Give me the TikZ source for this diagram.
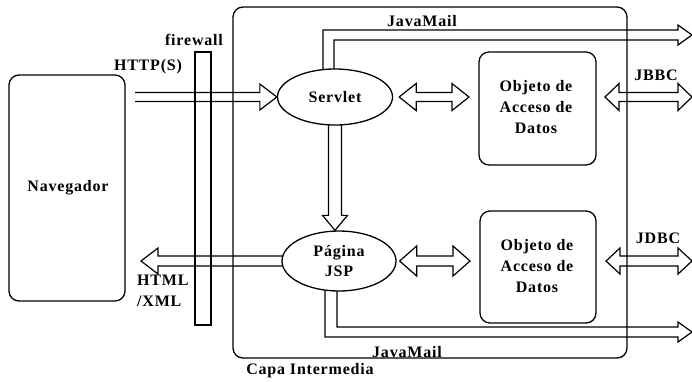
\documentclass[tikz,border=0pt]{standalone}
\usepackage{fontspec}
\setmainfont{Liberation Serif}[LetterSpace=5]
\usetikzlibrary{calc,backgrounds,shapes.geometric}
\tikzset{
  lbl/.style={font=\bfseries\fontsize{16}{21}\selectfont, inner sep=0pt},
  conn/.style={line width=1.2pt, line join=miter},
  rbox/.style={draw, line width=1.3pt, rounded corners=10pt, fill=white},
  frame/.style={draw, line width=1.3pt, rounded corners=10pt},
  oval/.style={draw, ellipse, line width=1.3pt, fill=white, inner sep=0pt, font=\bfseries\fontsize{16}{20}\selectfont, align=center},
}
% horizontal hollow arrow: tail, tip, dir(1 right / -1 left), shaft half, head half, head length
\newcommand\HArrow[6]{%
  \draw[conn] let \p1=(#1),\p2=(#2) in
   (\x1,{\y2+#4}) -- ({\x2-(#3)*#6},{\y2+#4}) -- ({\x2-(#3)*#6},{\y2+#5}) -- (\x2,\y2)
   -- ({\x2-(#3)*#6},{\y2-#5}) -- ({\x2-(#3)*#6},{\y2-#4}) -- (\x1,{\y2-#4});}
% double-headed hollow arrow: left tip, right tip, shaft half, head half, head length
\newcommand\DArrow[5]{%
  \draw[conn] let \p1=(#1),\p2=(#2) in
   (\x1,\y1) -- ({\x1+#5},{\y1+#4}) -- ({\x1+#5},{\y1+#3}) -- ({\x2-#5},{\y1+#3})
   -- ({\x2-#5},{\y1+#4}) -- (\x2,\y1) -- ({\x2-#5},{\y1-#4}) -- ({\x2-#5},{\y1-#3})
   -- ({\x1+#5},{\y1-#3}) -- ({\x1+#5},{\y1-#4}) -- cycle;}
% vertical hollow arrow pointing down: tail, tip, shaft half, head half, head length
\newcommand\VArrow[5]{%
  \draw[conn] let \p1=(#1),\p2=(#2) in
   ({\x1-#3},\y1) -- ({\x1-#3},{\y2+#5}) -- ({\x1-#4},{\y2+#5}) -- (\x1,\y2)
   -- ({\x1+#4},{\y2+#5}) -- ({\x1+#3},{\y2+#5}) -- ({\x1+#3},\y1);}
\begin{document}
\begin{tikzpicture}[x=1pt,y=-1pt]
\useasboundingbox (0,0) rectangle (692,381);

% containers
\draw[frame] (233,7) rectangle (627,358);
\node[lbl] (capalbl) at (310,371) {Capa Intermedia};
\draw[line width=1.2pt] (195,52) rectangle (211,325);
\node[lbl] (fwlbl) at (194,40) {firewall};

\draw[rbox] (9,75) rectangle (125,301);
\node[lbl] (nav) at (68,188) {Navegador};

% components
\node[oval, minimum width=115pt, minimum height=56pt] (servlet) at (335,97) {Servlet};
\node[oval, minimum width=114pt, minimum height=60pt] (jsp) at (339,261) {Página\\JSP};

\draw[rbox] (479,52) rectangle (596,165);
\node[lbl, align=center] (dao1) at (536,107) {Objeto de\\Acceso de\\Datos};
\draw[rbox] (480,211) rectangle (596,323);
\node[lbl, align=center] (dao2) at (537,266) {Objeto de\\Acceso de\\Datos};
\coordinate (dao1w) at (479,97);
\coordinate (dao2w) at (480,261);

% free ends
\coordinate (httptail) at (135,97);
\coordinate (htmltip) at (141,261);
\coordinate (jbbcA) at (605,97);
\coordinate (jbbcB) at (692,97);
\coordinate (jdbcA) at (606,261);
\coordinate (jdbcB) at (692,261);
\coordinate (mail1) at (692,35);
\coordinate (mail2) at (692,332);

% labels
\node[lbl] (httplbl) at (148,67) {HTTP(S)};
\node[lbl, align=left, anchor=north west] (htmllbl) at (137,275) {HTML\\/XML};
\node[lbl] (jbbclbl) at (656,75) {JBBC};
\node[lbl] (jdbclbl) at (658,238) {JDBC};
\node[lbl] (mail1lbl) at (422,21) {JavaMail};
\node[lbl] (mail2lbl) at (407,352) {JavaMail};

\begin{scope}[on background layer]
  \HArrow{httptail}{servlet.west}{1}{4.5pt}{13pt}{17pt}
  \HArrow{jsp.center}{htmltip}{-1}{5pt}{13pt}{17pt}
  \VArrow{servlet.center}{jsp.north}{6.5pt}{12.5pt}{15pt}
  \DArrow{$(servlet.east)+(6,0)$}{$(dao1w)+(-10,0)$}{4.5pt}{13.5pt}{17pt}
  \DArrow{$(jsp.east)+(3,0)$}{$(dao2w)+(-10,0)$}{5pt}{15pt}{17pt}
  \DArrow{jbbcA}{jbbcB}{4.5pt}{13.5pt}{14pt}
  \DArrow{jdbcA}{jdbcB}{5pt}{13pt}{14pt}
  % JavaMail (top)
  \draw[conn] let \p1=(servlet.center),\p2=(mail1) in
    ({\x1-12pt},\y1) -- ({\x1-12pt},{\y2+5pt}) -- ({\x2-14pt},{\y2+5pt}) -- ({\x2-14pt},{\y2+10pt})
    -- (\x2,\y2) -- ({\x2-14pt},{\y2-10pt}) -- ({\x2-14pt},{\y2-5pt}) -- ({\x1-1pt},{\y2-5pt}) -- ({\x1-1pt},\y1);
  % JavaMail (bottom)
  \draw[conn] let \p1=(jsp.center),\p2=(mail2) in
    ({\x1-14pt},\y1) -- ({\x1-14pt},{\y2-5pt}) -- ({\x2-14pt},{\y2-5pt}) -- ({\x2-14pt},{\y2-10pt})
    -- (\x2,\y2) -- ({\x2-14pt},{\y2+10pt}) -- ({\x2-14pt},{\y2+5pt}) -- ({\x1-2pt},{\y2+5pt}) -- ({\x1-2pt},\y1);
\end{scope}
\end{tikzpicture}
\end{document}
